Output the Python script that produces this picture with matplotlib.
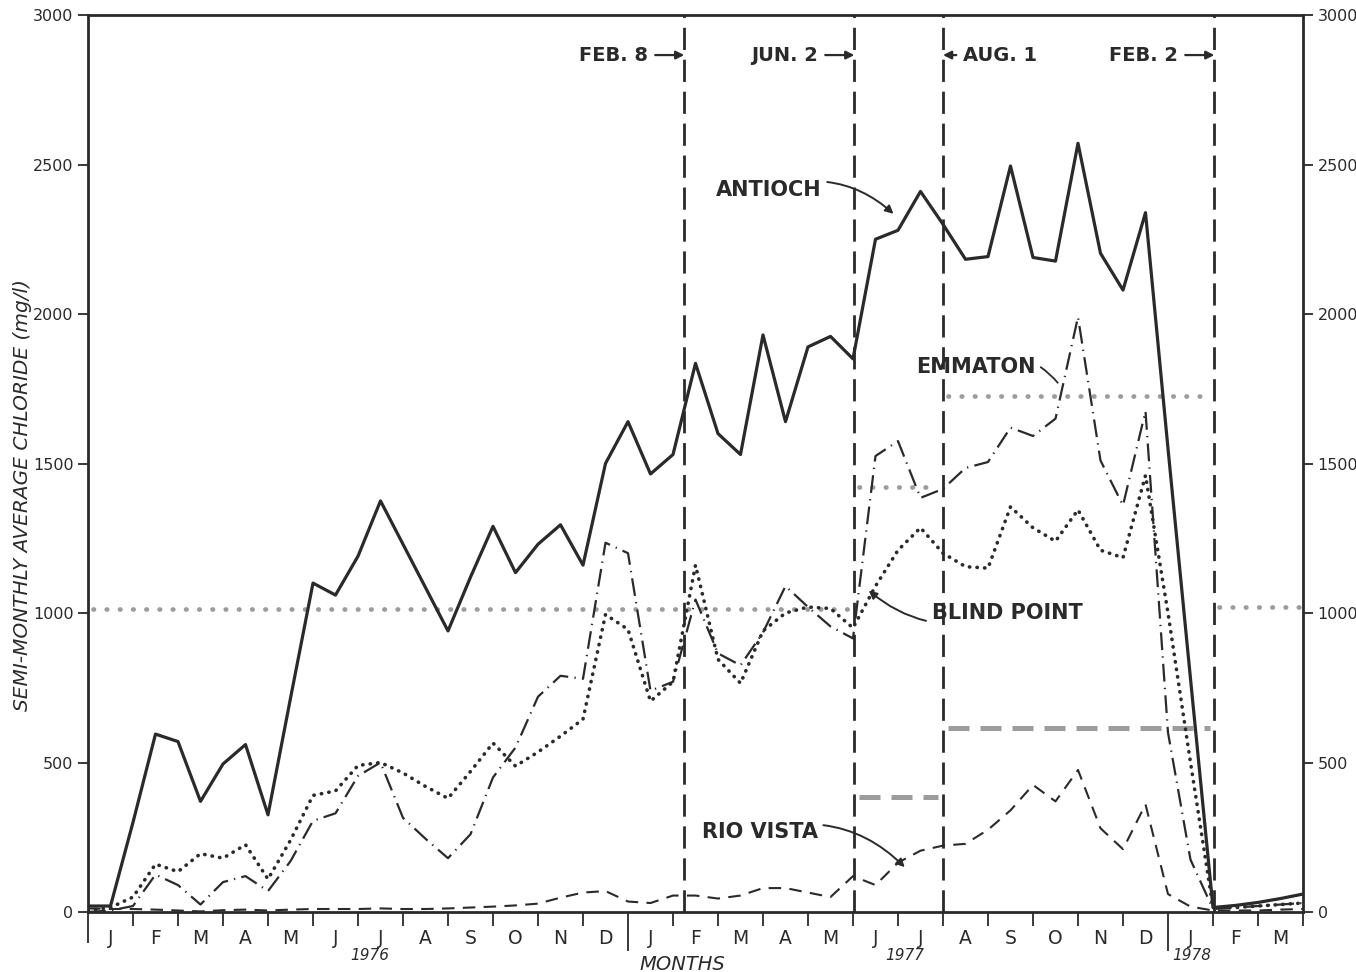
import numpy as np
import matplotlib
matplotlib.use("Agg")
import matplotlib.pyplot as plt
from matplotlib.transforms import blended_transform_factory

# Semi-monthly average chloride (mg/l), Jan 1976 .. Mar 1978, one value per half month
antioch = [20, 20, 300, 595, 570, 370, 495, 560, 325, 715,
           1100, 1060, 1190, 1375, 1230, 1085, 940, 1120, 1290, 1135,
           1230, 1295, 1160, 1500, 1640, 1465, 1530, 1835, 1600, 1530,
           1930, 1640, 1890, 1925, 1850, 2250, 2280, 2410, 2300, 2183,
           2192, 2495, 2189, 2177, 2571, 2203, 2080, 2339, 1550, 780,
           15, 22, 32, 45, 60]
emmaton = [0, 5, 20, 125, 90, 25, 100, 120, 70, 170,
           305, 330, 455, 500, 315, 245, 180, 260, 450, 550,
           720, 790, 780, 1235, 1200, 740, 770, 1045, 865, 825,
           935, 1090, 1020, 955, 915, 1525, 1575, 1385, 1415, 1485,
           1505, 1620, 1592, 1650, 1990, 1510, 1360, 1675, 600, 175,
           10, 15, 20, 25, 30]
blind_point = [5, 15, 50, 160, 135, 195, 180, 225, 110, 240,
               390, 405, 490, 500, 465, 420, 380, 470, 565, 488,
               535, 588, 645, 995, 945, 705, 770, 1160, 845, 765,
               940, 1000, 1020, 1015, 950, 1090, 1210, 1285, 1200, 1155,
               1150, 1355, 1285, 1240, 1345, 1210, 1185, 1460, 1000, 500,
               15, 15, 20, 25, 30]
rio_vista = [12, 10, 10, 8, 5, 2, 6, 8, 5, 8,
             10, 10, 10, 12, 10, 10, 12, 15, 18, 22,
             28, 48, 65, 70, 35, 30, 55, 55, 45, 55,
             80, 80, 65, 50, 120, 90, 165, 205, 222, 228,
             275, 340, 425, 370, 475, 280, 210, 360, 60, 18,
             5, 5, 5, 8, 10]

# standards in force (months from Jan 1 1976)
std_dotted_start = [0, 17.03, 19.0, 25.03]
std_dotted_end = [17.03, 19.0, 25.03, 27]
std_dotted_value = [1015, 1420, 1725, 1020]
std_dashed_start = [17.03, 19.0]
std_dashed_end = [19.0, 25.03]
std_dashed_value = [385, 615]

# period boundaries
event_x = [13.25, 17.03, 19.0, 25.03]
event_labels = ["FEB. 8", "JUN. 2", "AUG. 1", "FEB. 2"]

month_labels = ["J", "F", "M", "A", "M", "J", "J", "A", "S", "O", "N", "D",
                "J", "F", "M", "A", "M", "J", "J", "A", "S", "O", "N", "D",
                "J", "F", "M"]
years = ["1976", "1977", "1978"]
year_x = [6.27, 18.16, 24.53]

ink = "#2a2a2a"
grey = "#9c9c9c"
plt.rcParams["font.family"] = ["DejaVu Sans"]

fig = plt.figure(figsize=(13.56, 9.72), dpi=100)
ax = fig.add_axes([88 / 1356, 60 / 972, 1215 / 1356, 897 / 972])

x = np.arange(len(antioch)) * 0.5

# standards
for a, b, v in zip(std_dotted_start, std_dotted_end, std_dotted_value):
    ax.plot([a + 0.1, b - 0.1], [v, v], color=grey, lw=3.4,
            linestyle=(0, (0.1, 2.7)), dash_capstyle="round")
for a, b, v in zip(std_dashed_start, std_dashed_end, std_dashed_value):
    ax.plot([a + 0.1, b - 0.1], [v, v], color=grey, lw=3.6,
            linestyle=(0, (4.2, 2.2)))

# event lines
for ex in event_x:
    ax.axvline(ex, color=ink, lw=2.0, linestyle=(0, (8, 3.5)))

ax.plot(x, rio_vista, color=ink, lw=1.5, linestyle=(0, (6, 4)))
ax.plot(x, blind_point, color=ink, lw=2.6, linestyle=(0, (0.1, 2.0)),
        dash_capstyle="round")
ax.plot(x, emmaton, color=ink, lw=1.6, linestyle=(0, (8, 2.8, 0.6, 2.8)))
ax.plot(x, antioch, color=ink, lw=2.3)

ax.set_xlim(0, 27)
ax.set_ylim(0, 3000)

for s in ax.spines.values():
    s.set_linewidth(2.0)
    s.set_color(ink)

ax.set_yticks(np.arange(0, 3001, 500))
ax.tick_params(axis="y", which="major", direction="out", length=7, width=1.3,
               colors=ink, labelsize=11.5, right=True, labelright=True)

ax.set_xticks(np.arange(0, 28))
ax.set_xticklabels([])
ax.set_xticks(np.arange(0.5, 27, 1), minor=True)
ax.set_xticklabels(month_labels, minor=True, fontsize=13.5, color=ink)
ax.tick_params(axis="x", which="major", direction="out", length=10, width=1.3, color=ink)
ax.tick_params(axis="x", which="minor", length=0, pad=12)
for i, t in enumerate(ax.xaxis.get_major_ticks()):
    if i in (12, 24):
        t.tick1line.set_markersize(28)
    elif i == 0:
        t.tick1line.set_markersize(22)

trans = blended_transform_factory(ax.transData, ax.transAxes)
for yl, yx in zip(years, year_x):
    ax.text(yx, -0.048, yl, transform=trans, ha="center", va="center",
            fontsize=11, style="italic", color=ink)
ax.text(13.2, -0.058, "MONTHS", transform=trans, ha="center", va="center",
        fontsize=14, style="italic", color=ink)

ax.set_ylabel("SEMI-MONTHLY AVERAGE CHLORIDE (mg/l)", fontsize=14.5,
              style="italic", color=ink)
ax.yaxis.set_label_coords(-0.046, 0.465)

# event annotations
ann_y = 2866
arrow = dict(arrowstyle="-|>", color=ink, lw=1.6, shrinkA=3, shrinkB=0,
             mutation_scale=12)
for ex, lab in zip(event_x, event_labels):
    if lab == "AUG. 1":
        ax.annotate(lab, xy=(ex, ann_y), xytext=(ex + 0.45, ann_y), ha="left",
                    va="center", fontsize=14, fontweight="bold", color=ink,
                    arrowprops=arrow)
    else:
        ax.annotate(lab, xy=(ex, ann_y), xytext=(ex - 0.8, ann_y), ha="right",
                    va="center", fontsize=14, fontweight="bold", color=ink,
                    arrowprops=arrow)

curve = dict(arrowstyle="-|>", color=ink, lw=1.4, shrinkA=2, shrinkB=0,
             mutation_scale=12)
ax.annotate("ANTIOCH", xy=(17.9, 2335), xytext=(15.13, 2415), ha="center",
            va="center", fontsize=15, fontweight="bold", color=ink,
            arrowprops=dict(curve, connectionstyle="arc3,rad=-0.3"))
ax.annotate("EMMATON", xy=(21.55, 1770), xytext=(19.73, 1823), ha="center",
            va="center", fontsize=15, fontweight="bold", color=ink,
            arrowprops=dict(arrowstyle="-", color=ink, lw=1.3, shrinkA=2,
                            shrinkB=0, connectionstyle="arc3,rad=-0.4"))
ax.annotate("BLIND POINT", xy=(17.35, 1075), xytext=(20.42, 1000), ha="center",
            va="center", fontsize=15, fontweight="bold", color=ink,
            arrowprops=dict(curve, connectionstyle="arc3,rad=-0.3"))
ax.annotate("RIO VISTA", xy=(18.15, 150), xytext=(14.93, 268), ha="center",
            va="center", fontsize=15, fontweight="bold", color=ink,
            arrowprops=dict(curve, connectionstyle="arc3,rad=-0.3"))

fig.savefig("out.png", dpi=100)
